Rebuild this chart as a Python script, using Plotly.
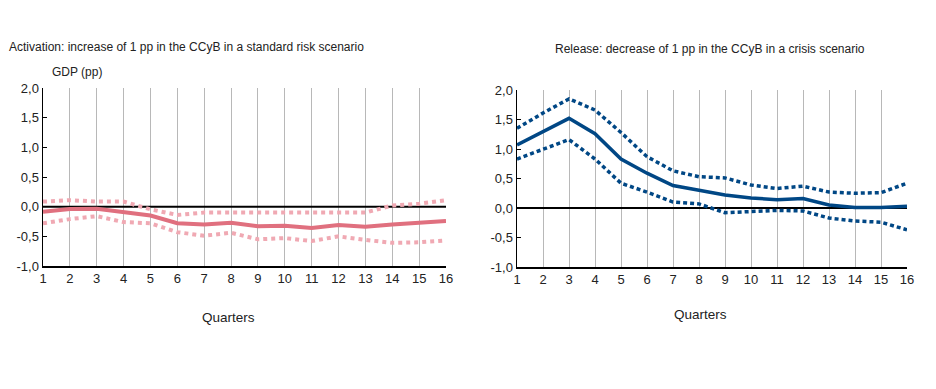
import plotly.graph_objects as go

quarters = list(range(1, 17))

act_central = [-0.085, -0.04, -0.035, -0.09, -0.15, -0.28, -0.30, -0.27, -0.33, -0.32, -0.36, -0.31, -0.34, -0.30, -0.27, -0.24]
act_upper = [0.085, 0.11, 0.085, 0.085, -0.045, -0.14, -0.10, -0.10, -0.11, -0.11, -0.11, -0.10, -0.10, 0.02, 0.05, 0.11]
act_lower = [-0.28, -0.21, -0.16, -0.26, -0.28, -0.43, -0.49, -0.44, -0.55, -0.53, -0.58, -0.50, -0.56, -0.61, -0.60, -0.57]

rel_central = [1.07, 1.30, 1.52, 1.26, 0.83, 0.59, 0.38, 0.30, 0.22, 0.17, 0.14, 0.16, 0.05, 0.01, 0.01, 0.03]
rel_upper = [1.35, 1.61, 1.85, 1.66, 1.28, 0.87, 0.63, 0.53, 0.51, 0.39, 0.33, 0.37, 0.27, 0.25, 0.26, 0.42]
rel_lower = [0.83, 0.99, 1.16, 0.83, 0.42, 0.27, 0.10, 0.07, -0.08, -0.06, -0.04, -0.05, -0.17, -0.22, -0.24, -0.37]

y_tickvals = [-1.0, -0.5, 0.0, 0.5, 1.0, 1.5, 2.0]
y_ticktext = ["-1,0", "-0,5", "0,0", "0,5", "1,0", "1,5", "2,0"]
x_ticktext = [str(q) for q in quarters]

title_left = "Activation: increase of 1 pp in the CCyB in a standard risk scenario"
title_right = "Release: decrease of 1 pp in the CCyB in a crisis scenario"
y_label = "GDP (pp)"
x_label = "Quarters"

PINK = "#E0707F"
PINK_LIGHT = "#F0A9B3"
BLUE = "#004785"
FONT = "Liberation Sans, Arial, sans-serif"

W, H = 936, 389

def px_x(p):
    return p / W

def px_y(p):
    return 1 - p / H

fig = go.Figure()

for ax in ["x", "x2"]:
    fig.add_trace(go.Scatter(x=[1, 16], y=[0, 0], mode="lines",
                             line=dict(color="black", width=2),
                             xaxis=ax, yaxis="y" if ax == "x" else "y2",
                             showlegend=False, hoverinfo="skip"))

def add_series(vals, color, dash, width, ax, yax):
    fig.add_trace(go.Scatter(x=quarters, y=vals, mode="lines",
                             line=dict(color=color, width=width, dash=dash),
                             xaxis=ax, yaxis=yax, showlegend=False))

add_series(act_upper, PINK_LIGHT, "4px,4px", 4, "x", "y")
add_series(act_lower, PINK_LIGHT, "4px,4px", 4, "x", "y")
add_series(act_central, PINK, "solid", 4, "x", "y")

add_series(rel_upper, BLUE, "4px,3px", 3.5, "x2", "y2")
add_series(rel_lower, BLUE, "4px,3px", 3.5, "x2", "y2")
add_series(rel_central, BLUE, "solid", 3.5, "x2", "y2")

xaxis_common = dict(
    range=[1, 16], tickvals=quarters, ticktext=x_ticktext,
    showgrid=True, gridcolor="#b8b8b8", gridwidth=1,
    showline=True, linecolor="black", linewidth=1.5,
    ticks="", zeroline=False, fixedrange=True, automargin=False,
    tickfont=dict(family=FONT, size=13, color="#222"),
)
yaxis_common = dict(
    range=[-1, 2], tickvals=y_tickvals, ticktext=y_ticktext,
    showgrid=False, showline=True, linecolor="black", linewidth=1.5,
    ticks="inside", ticklen=4, tickcolor="black", tickwidth=1,
    zeroline=False, fixedrange=True, automargin=False,
    tickfont=dict(family=FONT, size=13, color="#222"),
)

fig.update_layout(
    width=W, height=H,
    margin=dict(l=0, r=0, t=0, b=0, autoexpand=False),
    paper_bgcolor="white", plot_bgcolor="white",
    font=dict(family=FONT, color="#222"),
    xaxis=dict(domain=[px_x(43), px_x(446)], anchor="y", **xaxis_common),
    yaxis=dict(domain=[px_y(266), px_y(88)], anchor="x", **yaxis_common),
    xaxis2=dict(domain=[px_x(517), px_x(907)], anchor="y2", **xaxis_common),
    yaxis2=dict(domain=[px_y(267), px_y(90)], anchor="x2", **yaxis_common),
    showlegend=False,
    hovermode=False,
)

annos = [
    dict(text=title_left, x=px_x(7), y=px_y(47), xanchor="left", yanchor="middle", size=12),
    dict(text=title_right, x=px_x(710), y=px_y(49), xanchor="center", yanchor="middle", size=12),
    dict(text=y_label, x=px_x(50), y=px_y(72), xanchor="left", yanchor="middle", size=12),
    dict(text=x_label, x=px_x(228), y=px_y(317), xanchor="center", yanchor="middle", size=13.5),
    dict(text=x_label, x=px_x(700), y=px_y(314), xanchor="center", yanchor="middle", size=13.5),
]
for a in annos:
    fig.add_annotation(text=a["text"], x=a["x"], y=a["y"], xref="paper", yref="paper",
                       xanchor=a["xanchor"], yanchor=a["yanchor"], showarrow=False,
                       font=dict(family=FONT, size=a["size"], color="#222"))

fig.write_html(
    "out.html",
    config={"displayModeBar": False, "staticPlot": True},
    post_script="document.documentElement.style.margin='0';document.body.style.margin='0';document.body.style.padding='0';document.body.style.overflow='hidden';",
)
